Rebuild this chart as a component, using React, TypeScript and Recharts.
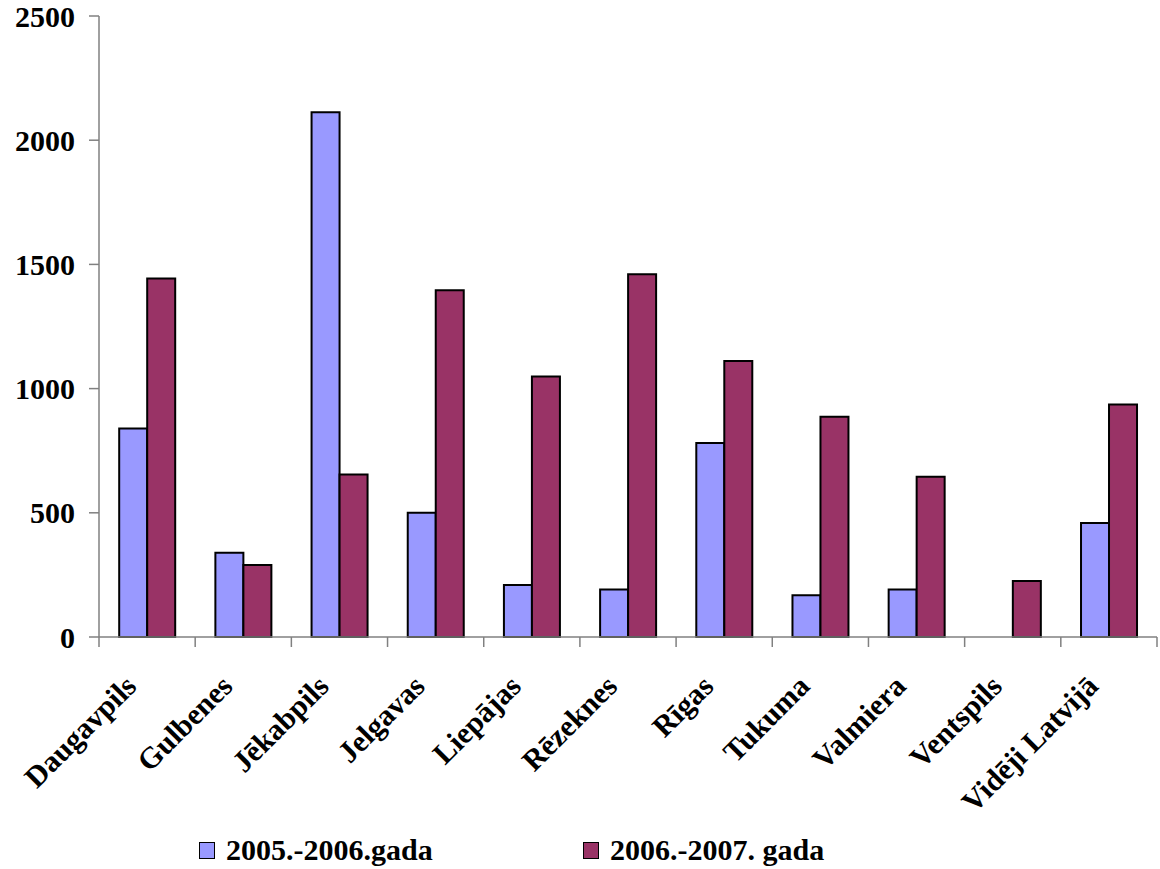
import React from 'react';
import { BarChart, Bar, XAxis, YAxis, Legend } from 'recharts';

const categories = ['Daugavpils', 'Gulbenes', 'Jēkabpils', 'Jelgavas', 'Liepājas', 'Rēzeknes', 'Rīgas', 'Tukuma', 'Valmiera', 'Ventspils', 'Vidēji Latvijā'];
const series2005 = [839, 339, 2113, 500, 209, 191, 781, 168, 191, 0, 459];
const series2006 = [1443, 290, 654, 1396, 1049, 1460, 1111, 887, 645, 225, 936];
const seriesNames = ['2005.-2006.gada', '2006.-2007. gada'];
const yTicks = [0, 500, 1000, 1500, 2000, 2500];

const data = categories.map((c, i) => ({ name: c, a: series2005[i], b: series2006[i] }));

const W = 1160;
const H = 869;
const M = { top: 16, right: 3, left: 0, bottom: 0 };
const Y_W = 99;
const X_H = 232;
const PLOT_W = W - M.left - M.right - Y_W;
const BAND = PLOT_W / categories.length;

const FONT = "'Liberation Serif', 'Times New Roman', serif";
const BLUE = '#9999FF';
const RED = '#993366';
const AXIS = '#808080';

const XTick = (props: any) => {
  const { x, y, payload, index } = props;
  const isLast = index === categories.length - 1;
  const ax = x - 9;
  const ay = y + 51;
  return (
    <g>
      <line x1={x - BAND / 2} y1={y} x2={x - BAND / 2} y2={y + 10} stroke={AXIS} strokeWidth={1.5} />
      {isLast && <line x1={x + BAND / 2} y1={y} x2={x + BAND / 2} y2={y + 10} stroke={AXIS} strokeWidth={1.5} />}
      <text
        x={ax}
        y={ay}
        textAnchor="end"
        transform={`rotate(-45, ${ax}, ${ay})`}
        fontFamily={FONT}
        fontWeight="bold"
        fontSize={30}
        fill="#000"
      >
        {payload.value}
      </text>
    </g>
  );
};

const LegendContent = () => (
  <div style={{ position: 'relative', width: W, height: 32, fontFamily: FONT, fontWeight: 'bold', fontSize: 30, color: '#000' }}>
    {[BLUE, RED].map((c, i) => (
      <div key={i} style={{ position: 'absolute', left: i === 0 ? 199 : 583, top: 0, height: 32, display: 'flex', alignItems: 'center', whiteSpace: 'nowrap' }}>
        <span style={{ display: 'inline-block', width: 14, height: 15, background: c, border: '1.5px solid #000', marginRight: 11 }} />
        <span>{seriesNames[i]}</span>
      </div>
    ))}
  </div>
);

export default function App() {
  return (
    <div style={{ position: 'absolute', left: 0, top: 0, width: W, height: H, background: '#fff' }}>
      <BarChart width={W} height={H} data={data} margin={M} barCategoryGap="21%" barGap={0}>
        <XAxis
          dataKey="name"
          height={X_H}
          interval={0}
          tickLine={false}
          tickSize={0}
          tickMargin={0}
          axisLine={{ stroke: AXIS, strokeWidth: 1.5 }}
          tick={<XTick />}
        />
        <YAxis
          width={Y_W}
          domain={[0, 2500]}
          ticks={yTicks}
          interval={0}
          tickSize={10}
          tickMargin={14}
          axisLine={{ stroke: AXIS, strokeWidth: 1.5 }}
          tickLine={{ stroke: AXIS, strokeWidth: 1.5 }}
          tick={{ fill: '#000', fontFamily: FONT, fontWeight: 'bold', fontSize: 30 }}
        />
        <Legend
          layout="horizontal"
          verticalAlign="middle"
          align="center"
          content={<LegendContent />}
          wrapperStyle={{ top: 834, left: 0, width: W, height: 32 }}
        />
        <Bar dataKey="a" name={seriesNames[0]} fill={BLUE} stroke="#000" strokeWidth={2} isAnimationActive={false} />
        <Bar dataKey="b" name={seriesNames[1]} fill={RED} stroke="#000" strokeWidth={2} isAnimationActive={false} />
      </BarChart>
    </div>
  );
}
